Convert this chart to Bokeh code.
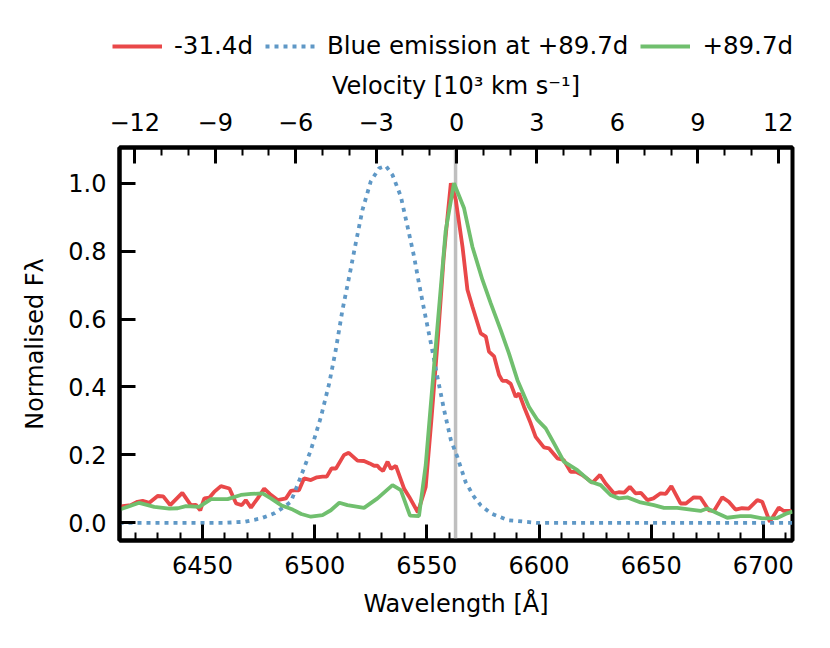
from bokeh.plotting import figure
from bokeh.layouts import column
from bokeh.models import (Range1d, LinearAxis, SingleIntervalTicker, Span, Legend,
                          LegendItem, PrintfTickFormatter, CustomJSTickFormatter)
from bokeh.embed import file_html
from bokeh.resources import INLINE

# ---------------- data ----------------
HALPHA = 6562.8

red_wave = [6413.5, 6414.4, 6418, 6421, 6423.3, 6426.3, 6430, 6432.5, 6435.6, 6441,
            6444.8, 6447, 6449, 6450.8, 6453, 6455.2, 6458.2, 6462, 6465, 6467.5,
            6469.3, 6471.6, 6474.6, 6477.5, 6480, 6483.5, 6487.2, 6489.4, 6491.5, 6493,
            6495.3, 6498.3, 6501, 6503.5, 6505.4, 6507.5, 6509.5, 6513.1, 6515.2, 6519.1,
            6522, 6524.5, 6526.5, 6528, 6529, 6530.5, 6532.5, 6534, 6536.2, 6539.9,
            6542.1, 6546, 6549.5, 6552, 6555, 6557.5, 6559.2, 6560.7, 6562.9, 6565.9,
            6568.1, 6570.3, 6574, 6576.3, 6577.7, 6580, 6582.2, 6583.7, 6585.5, 6587.4,
            6589.6, 6591.1, 6593.3, 6596.3, 6598.5, 6602.2, 6604.5, 6608.2, 6611, 6614.1,
            6616.5, 6619.3, 6623.8, 6627.2, 6629.7, 6633.4, 6635.5, 6638, 6640.5, 6643,
            6645.5, 6648.3, 6651, 6654.2, 6656.5, 6659, 6663.1, 6665.5, 6669, 6672,
            6675.7, 6678, 6681.7, 6684.6, 6687.6, 6690.5, 6693.5, 6697.3, 6699.5, 6702.9,
            6706.9, 6709.1, 6712.5]
red_flux = [0.048, 0.049, 0.052, 0.062, 0.065, 0.059, 0.079, 0.078, 0.052, 0.088,
            0.052, 0.053, 0.037, 0.072, 0.074, 0.091, 0.108, 0.101, 0.057, 0.052,
            0.067, 0.045, 0.072, 0.101, 0.085, 0.067, 0.072, 0.094, 0.096, 0.096,
            0.131, 0.126, 0.134, 0.136, 0.136, 0.160, 0.160, 0.200, 0.206, 0.183,
            0.182, 0.175, 0.168, 0.168, 0.160, 0.153, 0.180, 0.159, 0.168, 0.100,
            0.077, 0.031, 0.106, 0.30, 0.55, 0.78, 0.90, 1.0, 0.951, 0.813,
            0.686, 0.637, 0.558, 0.548, 0.504, 0.49, 0.435, 0.418, 0.418, 0.409,
            0.371, 0.381, 0.342, 0.293, 0.253, 0.222, 0.219, 0.190, 0.185, 0.150,
            0.150, 0.141, 0.118, 0.141, 0.116, 0.087, 0.090, 0.089, 0.106, 0.087,
            0.088, 0.067, 0.072, 0.087, 0.085, 0.108, 0.057, 0.057, 0.075, 0.074,
            0.037, 0.035, 0.075, 0.062, 0.039, 0.043, 0.042, 0.067, 0.062, 0.003,
            0.045, 0.035, 0.035]

blue_wave = [6413, 6460, 6468.6, 6476, 6482, 6486, 6489.4, 6493.8, 6498.3, 6502.8,
             6506.5, 6509.4, 6512.4, 6515.4, 6518.3, 6521.3, 6525, 6528.7, 6531.7, 6534.7,
             6538.4, 6541.4, 6544.3, 6546.5, 6548.8, 6551.8, 6554.7, 6557.7, 6560.7, 6563.6,
             6567.3, 6571, 6574, 6578.5, 6586, 6599, 6713]
blue_flux = [0.0, 0.0, 0.003, 0.013, 0.028, 0.045, 0.062, 0.136, 0.214, 0.312,
             0.411, 0.509, 0.627, 0.725, 0.823, 0.921, 1.005, 1.044, 1.051, 1.024,
             0.961, 0.872, 0.784, 0.705, 0.627, 0.529, 0.430, 0.332, 0.244, 0.194,
             0.120, 0.077, 0.052, 0.028, 0.008, 0.0, 0.0]

green_wave = [6413.5, 6414.4, 6421.8, 6428.5, 6435.2, 6439, 6442.6, 6448.5, 6453.8, 6461.2,
              6467.1, 6471.6, 6476.8, 6480.5, 6485, 6490.2, 6494, 6498.3, 6503.5, 6507.2,
              6511, 6514.6, 6522, 6528, 6534.7, 6538.4, 6542.5, 6546.5, 6549.5, 6553.2,
              6558.4, 6562.1, 6566.6, 6570.3, 6574.8, 6578.5, 6582.9, 6586.6, 6590.4, 6595.5,
              6599.3, 6603, 6606.7, 6611.1, 6617.1, 6623, 6627.5, 6631.9, 6635.6, 6639.4,
              6645.3, 6651.2, 6655.7, 6661.6, 6667.6, 6672, 6675, 6679.5, 6683.9, 6689.8,
              6694.3, 6699.5, 6706.2, 6710.6, 6713]
green_flux = [0.040, 0.042, 0.059, 0.047, 0.042, 0.043, 0.049, 0.047, 0.070, 0.070,
              0.082, 0.085, 0.087, 0.072, 0.052, 0.039, 0.026, 0.018, 0.023, 0.037,
              0.059, 0.052, 0.044, 0.072, 0.111, 0.096, 0.021, 0.020, 0.17, 0.46,
              0.86, 1.0, 0.926, 0.813, 0.715, 0.646, 0.568, 0.499, 0.420, 0.342,
              0.303, 0.278, 0.234, 0.180, 0.155, 0.121, 0.111, 0.082, 0.072, 0.075,
              0.060, 0.052, 0.044, 0.044, 0.039, 0.035, 0.042, 0.028, 0.015, 0.020,
              0.020, 0.013, 0.014, 0.028, 0.033]

labels = ["-31.4d", "Blue emission at +89.7d", "+89.7d"]
x_ticks_interval = 50
vel_ticks_interval = 3
y_ticks_interval = 0.2

RED = "#e94849"
BLUE = "#5f98c6"
GREEN = "#70bf6e"
FONT = "DejaVu Sans"
FS = "24px"
LW = 3.8
DASH = "4 5"

W = 814
LEG_H = 65
MAIN_H = 567

# ---------------- legend strip ----------------
# The same series are drawn here with a view range that keeps them out of sight,
# so only the legend entries of this strip are visible.
lf = figure(width=W, height=LEG_H, x_range=Range1d(0, 1), y_range=Range1d(0, 1),
            output_backend="svg", toolbar_location=None,
            x_axis_type=None, y_axis_type=None,
            min_border_left=0, min_border_right=0, min_border_top=0, min_border_bottom=0)
lf.frame_align = False
lf.outline_line_color = None
lf.xgrid.visible = False
lf.ygrid.visible = False
lf.background_fill_color = "white"
lf.border_fill_color = "white"
d_red = lf.line(red_wave, red_flux, line_color=RED, line_width=LW)
d_blue = lf.line(blue_wave, blue_flux, line_color=BLUE, line_width=LW, line_dash=DASH)
d_green = lf.line(green_wave, green_flux, line_color=GREEN, line_width=LW)

legend = Legend(items=[LegendItem(label=labels[0], renderers=[d_red]),
                       LegendItem(label=labels[1], renderers=[d_blue]),
                       LegendItem(label=labels[2], renderers=[d_green])],
                orientation="horizontal", location=(112, 5))
legend.border_line_color = None
legend.background_fill_alpha = 0
legend.label_text_font = FONT
legend.label_text_font_size = "24.5px"
legend.label_text_color = "black"
legend.glyph_width = 50
legend.label_standoff = 12
legend.spacing = 12
legend.padding = 6
legend.margin = 0
lf.add_layout(legend)

# ---------------- main figure ----------------
p = figure(width=W, height=MAIN_H,
           x_range=Range1d(6413, 6713), y_range=Range1d(-0.052, 1.105),
           output_backend="svg", toolbar_location=None,
           min_border_left=119, min_border_right=22,
           min_border_top=82, min_border_bottom=92)
p.frame_align = False
p.background_fill_color = "white"
p.border_fill_color = "white"
p.xgrid.visible = False
p.ygrid.visible = False
p.outline_line_color = "black"
p.outline_line_width = 4
p.outline_line_alpha = 1.0

p.extra_x_ranges = {"vel": Range1d(-12.57, 12.53)}

span = Span(location=HALPHA, dimension="height", line_color="#bfbfbf",
            line_width=3.5, level="underlay")
p.add_layout(span)

r_red = p.line(red_wave, red_flux, line_color=RED, line_width=LW)
r_blue = p.line(blue_wave, blue_flux, line_color=BLUE, line_width=LW, line_dash=DASH)
r_green = p.line(green_wave, green_flux, line_color=GREEN, line_width=LW)


def style(ax):
    ax.axis_line_color = "black"
    ax.axis_line_width = 4
    ax.major_tick_in = 16
    ax.major_tick_out = 0
    ax.major_tick_line_width = 3
    ax.major_tick_line_color = "black"
    ax.minor_tick_in = 8
    ax.minor_tick_out = 0
    ax.minor_tick_line_width = 2
    ax.minor_tick_line_color = "black"
    ax.major_label_text_font = FONT
    ax.major_label_text_font_size = FS
    ax.major_label_text_color = "black"
    ax.axis_label_text_font = FONT
    ax.axis_label_text_font_size = FS
    ax.axis_label_text_font_style = "normal"
    ax.axis_label_text_color = "black"


xa = p.xaxis[0]
style(xa)
xa.ticker = SingleIntervalTicker(interval=x_ticks_interval, num_minor_ticks=5)
xa.axis_label = "Wavelength [Å]"
xa.major_label_standoff = 15
xa.axis_label_standoff = 13

ya = p.yaxis[0]
style(ya)
ya.ticker = SingleIntervalTicker(interval=y_ticks_interval, num_minor_ticks=0)
ya.formatter = PrintfTickFormatter(format="%.1f")
ya.minor_tick_line_color = None
ya.axis_label = "Normalised Fλ"
ya.axis_label_standoff = 16
ya.major_label_standoff = 13

top = LinearAxis(x_range_name="vel")
style(top)
top.ticker = SingleIntervalTicker(interval=vel_ticks_interval, num_minor_ticks=3)
top.formatter = CustomJSTickFormatter(
    code="const v = Math.round(tick); return (v < 0 ? '\\u2212' : '') + Math.abs(v);")
top.axis_label = "Velocity [10³ km s⁻¹]"
top.major_label_standoff = 17
top.axis_label_standoff = 10
p.add_layout(top, "above")

layout = column(lf, p, spacing=0)
open("out.html", "w").write(file_html(layout, INLINE))
